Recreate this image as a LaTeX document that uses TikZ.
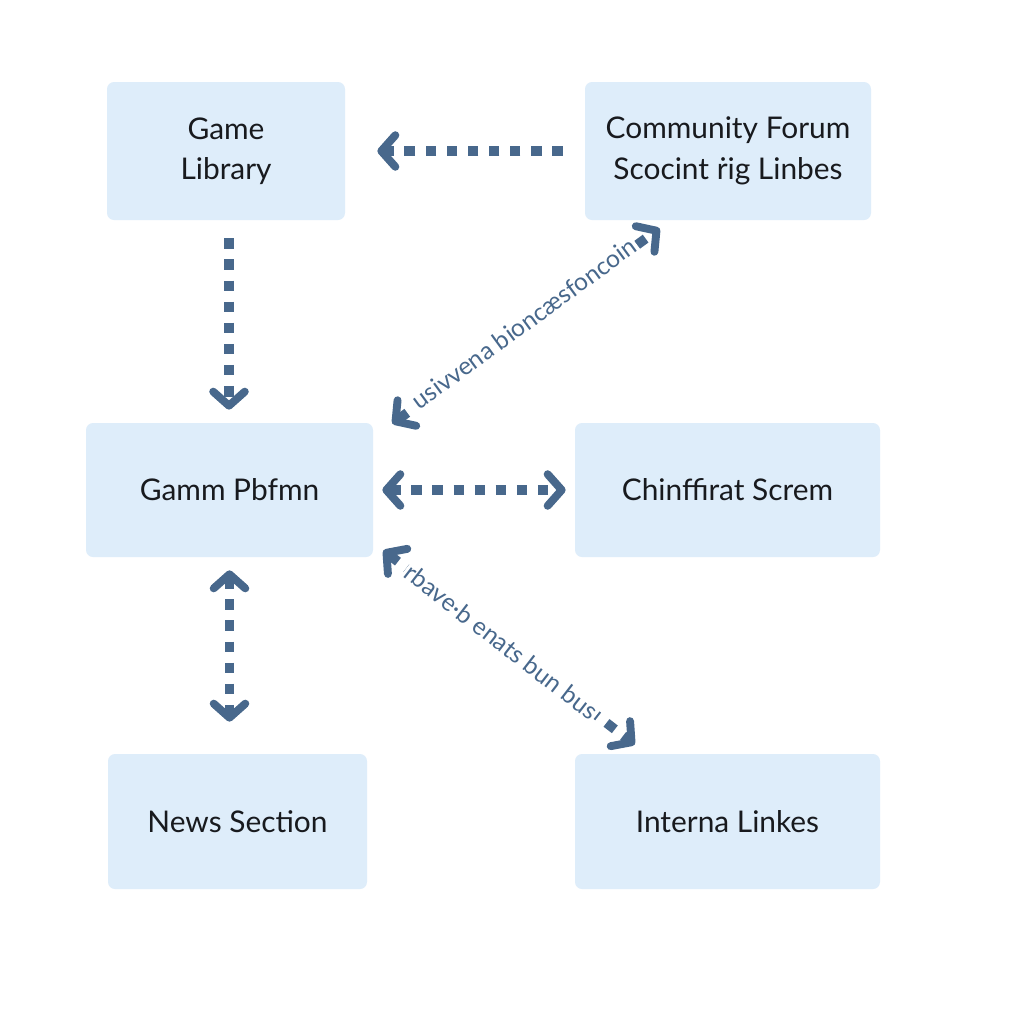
\documentclass[tikz,border=0pt]{standalone}
\usepackage{fontspec}
\setmainfont{Lato}
\usepackage{tikz}
\usetikzlibrary{arrows.meta,positioning,calc}
\definecolor{boxblue}{RGB}{222,237,250}
\definecolor{arrowblue}{RGB}{72,104,140}
\definecolor{textdark}{RGB}{24,26,30}

\begin{document}
\begin{tikzpicture}[
      box/.style={rounded corners=4pt,fill=boxblue,draw=none,font=\fontsize{17}{23}\selectfont,
                  text=textdark,align=center,inner sep=0pt},
      arr/.style={arrowblue,line width=5.5pt,dash pattern=on 6pt off 6pt,arrows={-{Straight Barb[length=8pt,width=18pt,line width=4.5pt,round]}}},
      twoarr/.style={arr,arrows={{Straight Barb[length=8pt,width=18pt,line width=4.5pt,round]}-{Straight Barb[length=8pt,width=18pt,line width=4.5pt,round]}}},
      lab/.style={sloped,fill=white,text=arrowblue,font=\fontsize{14}{16}\selectfont,inner sep=1pt}]
      \useasboundingbox[fill=white] (0,0) rectangle (20.48,-20.48);

      % Boxes
      \node[box,minimum width=4.76cm,minimum height=2.76cm] (lib)   at (4.52,-3.02)  {Game\\Library};
      \node[box,minimum width=5.72cm,minimum height=2.76cm] (forum) at (14.56,-3.02) {Community Forum\\Scocint ṙig Linbes};
      \node[box,minimum width=5.74cm,minimum height=2.68cm] (gamm)  at (4.59,-9.8)   {Gamm Pbfmn};
      \node[box,minimum width=6.1cm,minimum height=2.68cm]  (chin)  at (14.55,-9.8)  {Chinffirat Screm};
      \node[box,minimum width=5.18cm,minimum height=2.7cm]  (news)  at (4.75,-16.43) {News Section};
      \node[box,minimum width=6.1cm,minimum height=2.7cm]   (links) at (14.55,-16.43) {Interna Linkes};

      % Connectors
      \draw[arr,shorten <=0.44cm,shorten >=0.64cm] (forum.west) -- (lib.east);
      \draw[arr,shorten <=0.36cm,shorten >=0.26cm] ([xshift=0.06cm]lib.south) -- ([xshift=0.06cm]lib.south |- gamm.north);
      \draw[twoarr,shorten <=0.18cm,shorten >=0.18cm] (gamm.east) -- (chin.west);
      \draw[twoarr,shorten <=0.26cm,shorten >=0.64cm] (gamm.south) -- (gamm.south |- news.north);
      \draw[twoarr] ([shift={(0.38,-0.02)}]gamm.north east) -- ([shift={(1.5,-0.16)}]forum.south west)
            node[lab,midway,yshift=2pt] {usivvena bioncæsfoncoin};
      \draw[twoarr] ([shift={(0.2,0.14)}]gamm.south east) -- ([shift={(1.2,0.18)}]links.north west)
            node[lab,pos=0.47] {rbave·b enats bun bus};
    \end{tikzpicture}
\end{document}
